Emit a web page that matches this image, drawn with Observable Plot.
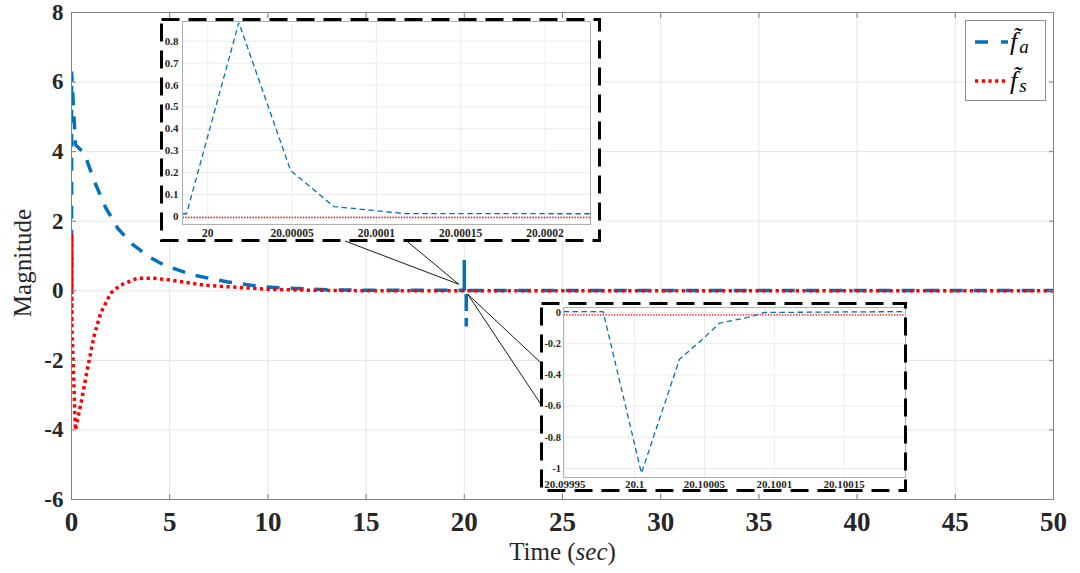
<!DOCTYPE html>
<html>
<head>
<meta charset="utf-8">
<script src="https://cdn.jsdelivr.net/npm/d3@7"></script>
<script src="https://cdn.jsdelivr.net/npm/@observablehq/plot@0.6"></script>
<style>
  html, body { margin: 0; padding: 0; background: #fff; }
  #wrap { position: relative; width: 1080px; height: 573px; overflow: hidden; }
  .inset { position: absolute; }
  #overlay { position: absolute; left: 0; top: 0; pointer-events: none; }
</style>
</head>
<body>
<div id="wrap">
  <div id="main"></div>
  <div id="insetA" class="inset" style="left:160px;top:18px"></div>
  <div id="insetB" class="inset" style="left:540px;top:302px"></div>
  <svg id="overlay" width="1080" height="573"></svg>
</div>
<script>
// ---------- data ----------
const xTicks = [0, 5, 10, 15, 20, 25, 30, 35, 40, 45, 50];
const yTicks = [-6, -4, -2, 0, 2, 4, 6, 8];

// f_a (blue) main trajectory, t < 20
const blueEarlyT = [0, 0.005, 0.2, 0.66, 1.14, 1.73, 2.36, 3.09, 3.94, 4.7, 6.2, 7.9, 9.6, 11.3, 13, 15, 18];
const blueEarlyV = [0, 6.3, 4.2, 3.95, 3.18, 2.4, 1.79, 1.34, 0.98, 0.74, 0.45, 0.26, 0.12, 0.07, 0.03, 0.015, 0.012];

// zoom A (around t = 20)
const zoomAT = [19.999985, 19.9999874, 20.0000184, 20.0000491, 20.0000748, 20.0001, 20.0001163, 20.000227];
const blueZoomAV = [0.012, 0.012, 0.885, 0.21, 0.045, 0.026, 0.013, 0.012];
const redZoomAT = [19.999985, 20.000227];
const redZoomAV = [-0.005, -0.005];
const zoomAXTicks = [20, 20.00005, 20.0001, 20.00015, 20.0002];
const zoomAXLabels = ["20", "20.00005", "20.0001", "20.00015", "20.0002"];
const zoomAYTicks = [0, 0.1, 0.2, 0.3, 0.4, 0.5, 0.6, 0.7, 0.8];
const zoomAYLabels = ["0", "0.1", "0.2", "0.3", "0.4", "0.5", "0.6", "0.7", "0.8"];

// zoom B (around t = 20.1)
const zoomBT = [20.099949, 20.0999774, 20.1000048, 20.1000321, 20.10005, 20.1000607, 20.100081, 20.1000929, 20.100194];
const blueZoomBV = [0.006, 0.006, -1.03, -0.30, -0.16, -0.068, -0.032, 0.0, 0.006];
const redZoomBT = [20.099949, 20.100194];
const redZoomBV = [-0.015, -0.015];
const zoomBXTicks = [20.09995, 20.1, 20.10005, 20.1001, 20.10015];
const zoomBXLabels = ["20.09995", "20.1", "20.10005", "20.1001", "20.10015"];
const zoomBYTicks = [0, -0.2, -0.4, -0.6, -0.8, -1];
const zoomBYLabels = ["0", "-0.2", "-0.4", "-0.6", "-0.8", "-1"];

// f_a after the second spike
const blueLateT = [20.12, 30, 40, 50];
const blueLateV = [0.01, 0.01, 0.01, 0.01];

// f_s (red) main trajectory
const redEarlyT = [0, 0.003, 0.006, 0.009, 0.012, 0.015, 0.02, 0.2, 0.46, 0.8, 1.14, 1.48, 1.99, 2.49, 3.34, 4.19, 5.04, 6.74, 8.44, 10.1, 11.8, 14, 19.99];
const redEarlyV = [0, 1.65, -1.0, 1.6, -1.0, 1.4, -1.03, -4.0, -3.3, -2.28, -1.32, -0.65, -0.07, 0.16, 0.36, 0.36, 0.31, 0.16, 0.1, 0.04, 0.02, 0.005, 0];
const redLateT = [20.2, 35, 50];
const redLateV = [0, 0, 0];

const legendSubs = ["a", "s"];

// ---------- helpers ----------
const zip = (T, V) => T.map((t, i) => ({t, v: V[i]}));
const serif = "'Liberation Serif', 'Times New Roman', serif";
const BLUE = "#0072BD", RED = "#FF0000";

const blueMain = [...zip(blueEarlyT, blueEarlyV), ...zip(zoomAT, blueZoomAV), ...zip(zoomBT, blueZoomBV), ...zip(blueLateT, blueLateV)];
const redMain = [...zip(redEarlyT, redEarlyV), ...zip(redZoomAT, redZoomAV), ...zip(redZoomBT, redZoomBV), ...zip(redLateT, redLateV)];

// ---------- main chart ----------
const main = Plot.plot({
  width: 1080, height: 573,
  marginLeft: 71, marginRight: 27, marginTop: 12, marginBottom: 74,
  style: {fontFamily: serif, background: "white", color: "#262626"},
  x: {domain: [0, 50]},
  y: {domain: [-6, 8]},
  marks: [
    Plot.gridX(xTicks, {stroke: "#e4e4e4", strokeOpacity: 1}),
    Plot.gridY(yTicks, {stroke: "#e4e4e4", strokeOpacity: 1}),
    Plot.line(blueMain, {x: "t", y: "v", stroke: BLUE, strokeWidth: 3.5, strokeDasharray: "13 11", strokeLinecap: "butt", strokeLinejoin: "miter", clip: true}),
    Plot.line(redMain, {x: "t", y: "v", stroke: RED, strokeWidth: 3.5, strokeDasharray: "3.3 3.4", strokeLinecap: "butt", strokeLinejoin: "miter", clip: true}),
    Plot.frame({stroke: "#808080"}),
    Plot.axisX(xTicks, {anchor: "bottom", tickSize: -5, tickFormat: () => "", stroke: "#808080", label: null}),
    Plot.axisX(xTicks, {anchor: "top", tickSize: -5, tickFormat: () => "", stroke: "#808080", label: null}),
    Plot.axisY(yTicks, {anchor: "left", tickSize: -5, tickFormat: () => "", stroke: "#808080", label: null}),
    Plot.axisY(yTicks, {anchor: "right", tickSize: -5, tickFormat: () => "", stroke: "#808080", label: null}),
    Plot.axisX(xTicks, {anchor: "bottom", tickSize: 0, tickPadding: 12, fontSize: 27, fontWeight: "bold", fill: "#262626", label: null, tickFormat: d => String(d)}),
    Plot.axisY(yTicks, {anchor: "left", tickSize: 0, tickPadding: 8, fontSize: 23, fontWeight: "bold", fill: "#262626", label: null, tickFormat: d => String(d)}),
    Plot.text(["Magnitude"], {frameAnchor: "left", textAnchor: "middle", lineAnchor: "middle", rotate: -90, dx: -49, dy: 7, fontSize: 25, fill: "#262626"}),
    Plot.text(["Time (sec)"], {frameAnchor: "bottom", lineAnchor: "middle", dy: 52, fontSize: 25, fill: "#262626"})
  ]
});
document.getElementById("main").appendChild(main);

// italic "sec"
d3.select(main).selectAll("text").filter(function() { return this.textContent === "Time (sec)"; })
  .each(function() {
    const t = d3.select(this);
    t.text(null);
    t.append("tspan").text("Time (");
    t.append("tspan").attr("font-style", "italic").text("sec");
    t.append("tspan").text(")");
  });

// ---------- insets ----------
function makeInset(el, cfg) {
  const p = Plot.plot({
    width: cfg.width, height: cfg.height,
    marginLeft: cfg.ml, marginRight: cfg.mr, marginTop: cfg.mt, marginBottom: cfg.mb,
    style: {fontFamily: serif, background: "white", color: "#262626", overflow: "visible"},
    x: {domain: cfg.xd},
    y: {domain: cfg.yd},
    marks: [
      Plot.gridX(cfg.xt, {stroke: "#ececec", strokeOpacity: 1}),
      Plot.gridY(cfg.yt, {stroke: "#ececec", strokeOpacity: 1}),
      Plot.line(cfg.red, {x: "t", y: "v", stroke: RED, strokeWidth: 1.4, strokeDasharray: "1.4 1.4", strokeLinecap: "butt", clip: true}),
      Plot.line(cfg.blue, {x: "t", y: "v", stroke: BLUE, strokeWidth: 1.3, strokeDasharray: "5.5 3.5", strokeLinecap: "butt", strokeLinejoin: "miter", clip: true}),
      Plot.frame({stroke: "#b0b0b0"}),
      Plot.axisX(cfg.xt, {anchor: "bottom", tickSize: 0, tickPadding: cfg.xpad, fontSize: cfg.xfs, fontWeight: "bold", fill: "#262626", label: null,
        tickFormat: d => cfg.xl[cfg.xt.indexOf(d)]}),
      Plot.axisY(cfg.yt, {anchor: "left", tickSize: 0, tickPadding: cfg.ypad, fontSize: cfg.yfs, fontWeight: "bold", fill: "#262626", label: null,
        tickFormat: d => cfg.yl[cfg.yt.indexOf(d)]})
    ]
  });
  el.appendChild(p);
  d3.select(p).append("rect")
    .attr("x", 1.5).attr("y", 1.5)
    .attr("width", cfg.width - 3).attr("height", cfg.height - 3)
    .attr("fill", "none").attr("stroke", "#000").attr("stroke-width", 3)
    .attr("stroke-dasharray", "18 9");
  return p;
}

makeInset(document.getElementById("insetA"), {
  width: 441, height: 224, ml: 22, mr: 11, mt: 3, mb: 18,
  xd: [19.999985, 20.000227], yd: [-0.037, 0.89],
  xt: zoomAXTicks, xl: zoomAXLabels, yt: zoomAYTicks, yl: zoomAYLabels,
  xpad: 4, ypad: 4, xfs: 11.5, yfs: 11,
  blue: zip(zoomAT, blueZoomAV), red: zip(redZoomAT, redZoomAV)
});
makeInset(document.getElementById("insetB"), {
  width: 367, height: 190, ml: 23, mr: 2, mt: 5, mb: 15,
  xd: [20.099949, 20.100194], yd: [-1.058, 0.032],
  xt: zoomBXTicks, xl: zoomBXLabels, yt: zoomBYTicks, yl: zoomBYLabels,
  xpad: 2.5, ypad: 2.5, xfs: 11, yfs: 10.5,
  blue: zip(zoomBT, blueZoomBV), red: zip(redZoomBT, redZoomBV)
});

// ---------- overlay: connectors + legend ----------
const sx = main.scale("x"), sy = main.scale("y");
const px = sx.apply(20), py = sy.apply(0);
const ov = d3.select("#overlay");
const conn = [
  [345, 241, px - 5, py - 6],
  [406.7, 241, px - 5, py - 6],
  [px + 4, py + 4, 540, 362],
  [px + 4, py + 4, 540, 403]
];
ov.selectAll("line.c").data(conn).join("line").attr("class", "c")
  .attr("x1", d => d[0]).attr("y1", d => d[1]).attr("x2", d => d[2]).attr("y2", d => d[3])
  .attr("stroke", "#000").attr("stroke-width", 0.9);

// legend
const lg = ov.append("g");
lg.append("rect").attr("x", 965.5).attr("y", 20.5).attr("width", 80).attr("height", 80)
  .attr("fill", "#fff").attr("stroke", "#8c8c8c").attr("stroke-width", 1);
const rows = [
  {color: BLUE, dash: "13 13", y: 42, sub: legendSubs[0]},
  {color: RED, dash: "3.3 3.4", y: 81, sub: legendSubs[1]}
];
rows.forEach(r => {
  lg.append("line").attr("x1", 975).attr("x2", 1008).attr("y1", r.y).attr("y2", r.y)
    .attr("stroke", r.color).attr("stroke-width", 3.5).attr("stroke-dasharray", r.dash)
    .attr("stroke-linecap", "butt");
  const base = r.y + 8;
  const t = lg.append("text").attr("x", 1010).attr("y", base).attr("font-family", serif)
    .attr("fill", "#000");
  t.append("tspan").attr("font-style", "italic").attr("font-size", 26).text("f\u0303");
  t.append("tspan").attr("font-style", "italic").attr("font-size", 19).attr("dx", 2).attr("dy", 3).text(r.sub);
});
</script>
</body>
</html>
